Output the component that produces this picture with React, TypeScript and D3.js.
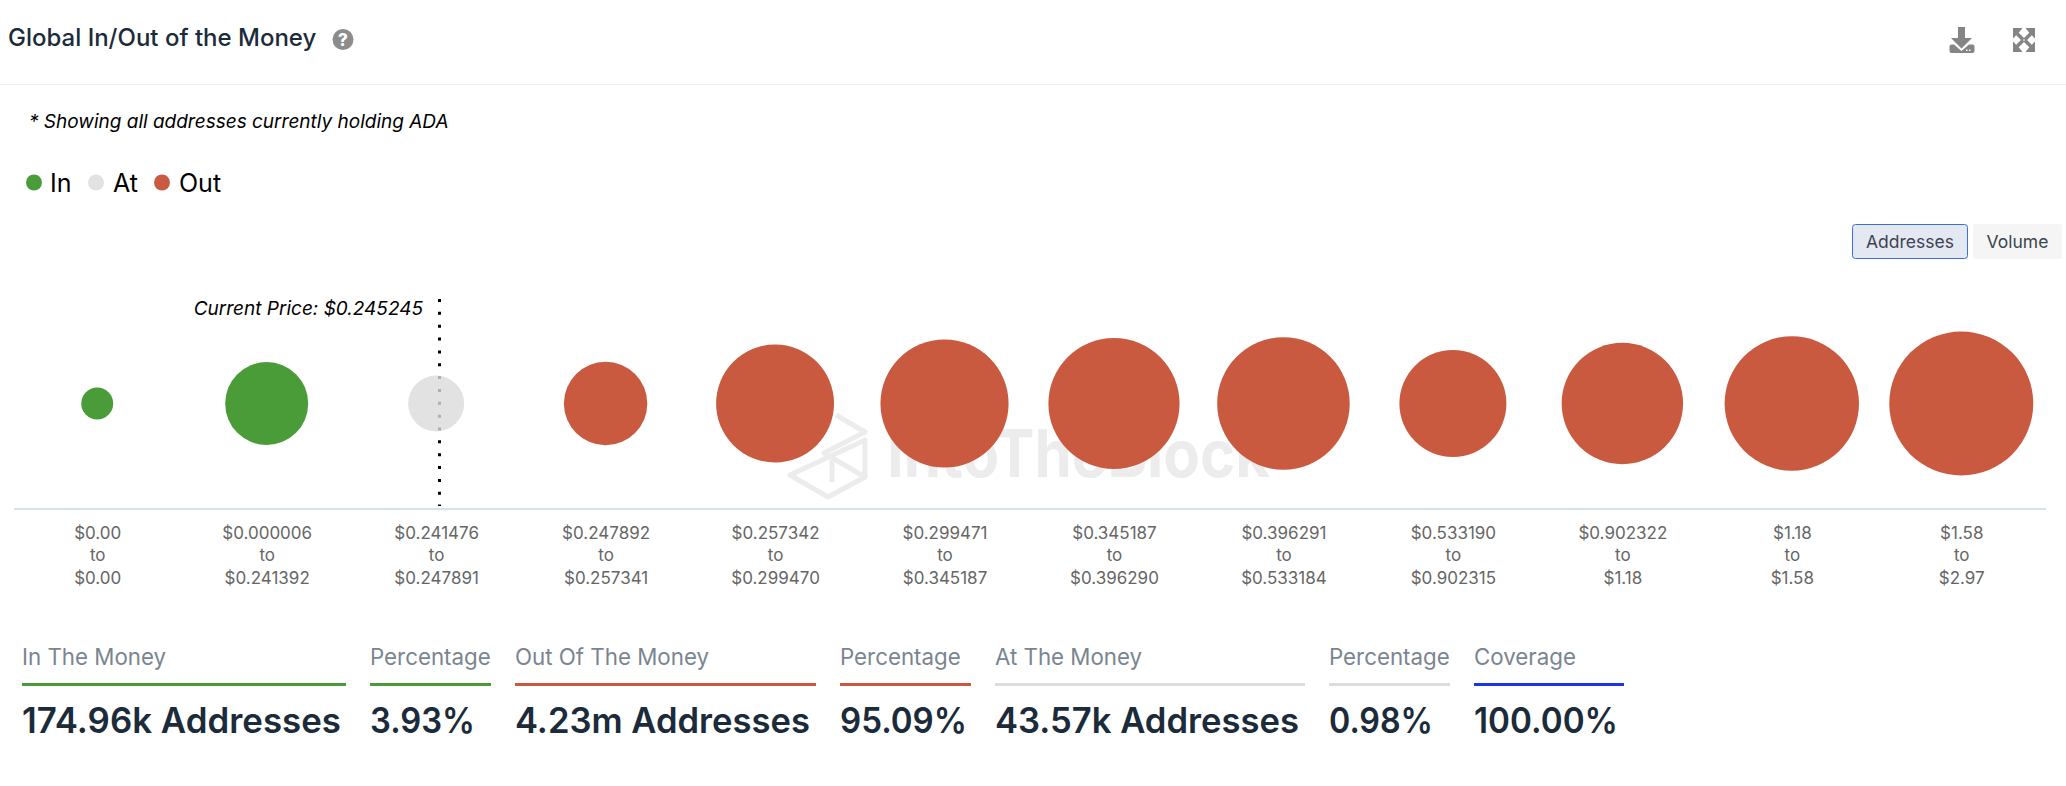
import { useEffect, useRef } from 'react';
import * as d3 from 'd3';

const width = 2066;
const height = 786;

const fromLabels = ['$0.00', '$0.000006', '$0.241476', '$0.247892', '$0.257342', '$0.299471', '$0.345187', '$0.396291', '$0.533190', '$0.902322', '$1.18', '$1.58'];
const toLabels = ['$0.00', '$0.241392', '$0.247891', '$0.257341', '$0.299470', '$0.345187', '$0.396290', '$0.533184', '$0.902315', '$1.18', '$1.58', '$2.97'];
const addresses = [8100, 142000, 43570, 144000, 407000, 522000, 560000, 578000, 304000, 444000, 602000, 741000];
const states = ['in', 'in', 'at', 'out', 'out', 'out', 'out', 'out', 'out', 'out', 'out', 'out'];

const legendNames = ['In', 'At', 'Out'];
const statTitles = ['In The Money', 'Percentage', 'Out Of The Money', 'Percentage', 'At The Money', 'Percentage', 'Coverage'];
const statValues = ['174.96k Addresses', '3.93%', '4.23m Addresses', '95.09%', '43.57k Addresses', '0.98%', '100.00%'];

const green = '#4a9c38';
const red = '#c95a40';
const grey = '#e2e2e2';
const dark = '#1b2b3a';
const font = 'Inter, sans-serif';

const statX = [22, 370, 515, 840, 995, 1329, 1474];
const statW = [324, 121, 301, 131, 310, 121, 150];
// the installed Inter is a different cut, so the big numbers are fitted to the measured widths
const statTextW = [319, 105, 295, 127, 304, 104, 144];
const statColors = [green, green, red, red, '#dddddd', '#dddddd', '#1a36e8'];

export default function App() {
  const ref = useRef<SVGSVGElement>(null);

  useEffect(() => {
    const svg = d3.select(ref.current!);
    svg.selectAll('*').remove();

    // header
    svg.append('text').attr('x', 8).attr('y', 46).text('Global In/Out of the Money')
      .attr('font-size', 24).attr('font-weight', 500).attr('fill', dark);
    svg.append('circle').attr('cx', 343).attr('cy', 39.5).attr('r', 10.5).attr('fill', '#8c8c8c');
    svg.append('text').attr('x', 343).attr('y', 45.5).attr('text-anchor', 'middle').text('?')
      .attr('font-size', 17).attr('font-weight', 800).attr('fill', '#fff');
    svg.append('line').attr('x1', 0).attr('x2', width).attr('y1', 84.5).attr('y2', 84.5).attr('stroke', '#eeeeee');

    // download + expand icons
    svg.append('path').attr('fill', '#858585')
      .attr('d', 'M1958 27h7v11h7l-10.500 10.500-10.500-10.500h7z M1951 44.500h3l7.500 6.500 7.500-6.500h3.500a2 2 0 0 1 2 2v4.500a2 2 0 0 1-2 2h-21a2 2 0 0 1-2-2v-4.500a2 2 0 0 1 2-2z');
    svg.append('rect').attr('x', 1966).attr('y', 49.5).attr('width', 1.5).attr('height', 1.5).attr('fill', '#fff');
    svg.append('rect').attr('x', 1969).attr('y', 49.5).attr('width', 1.5).attr('height', 1.5).attr('fill', '#fff');
    const expand = svg.append('g').attr('transform', 'translate(2024,40)');
    [1, -1].forEach((sx) => {
      [1, -1].forEach((sy) => {
        expand.append('path').attr('transform', `scale(${sx},${sy})`).attr('fill', '#858585')
          .attr('d', 'M11-12v10.500l-3.200-3.200-5.800 5.800-2.500-2.500 5.800-5.800-3.800-4.800z');
      });
    });

    svg.append('text').attr('x', 29).attr('y', 127.500).text('* Showing all addresses currently holding ADA')
      .attr('font-size', 19).attr('font-style', 'italic').attr('fill', '#000');

    // legend
    const legendColor = d3.scaleOrdinal<string, string>().domain(legendNames).range([green, grey, red]);
    const legendDot = [34, 96, 162];
    const legendText = [50, 113, 179];
    legendNames.forEach((n, i) => {
      svg.append('circle').attr('cx', legendDot[i]).attr('cy', 182.500).attr('r', 8).attr('fill', legendColor(n));
      svg.append('text').attr('x', legendText[i]).attr('y', 192).text(n).attr('font-size', 25).attr('fill', '#000');
    });

    // addresses / volume toggle
    svg.append('rect').attr('x', 1852.500).attr('y', 224.500).attr('width', 115).attr('height', 34).attr('rx', 3)
      .attr('fill', '#e4e8f3').attr('stroke', '#3b6fe0').attr('stroke-width', 1);
    svg.append('text').attr('x', 1910).attr('y', 247.500).attr('text-anchor', 'middle').text('Addresses')
      .attr('font-size', 17.500).attr('fill', '#3d4450');
    svg.append('rect').attr('x', 1973).attr('y', 224).attr('width', 89).attr('height', 35).attr('rx', 3).attr('fill', '#f5f5f5');
    svg.append('text').attr('x', 2017.500).attr('y', 247.500).attr('text-anchor', 'middle').text('Volume')
      .attr('font-size', 17.500).attr('fill', '#3d4450');

    // watermark
    const mark = svg.append('g').attr('fill', 'none').attr('stroke', '#ececec').attr('stroke-width', 5).attr('stroke-linejoin', 'round');
    mark.append('path').attr('d', 'M836 415l29 17-41 21 41 24-37 20-38-22 75-35v37');
    mark.append('path').attr('d', 'M832 460v22');
    svg.append('text').attr('x', 887).attr('y', 477).text('IntoTheBlock')
      .attr('font-size', 66).attr('font-weight', 700).attr('fill', '#ececec')
      .attr('textLength', 383).attr('lengthAdjust', 'spacingAndGlyphs');

    // chart
    const x = d3.scaleBand<number>().domain(d3.range(addresses.length)).range([12.500, 2046]);
    const r = d3.scalePow().exponent(1 / 3).domain([0, d3.max(addresses)!]).range([0, 72]);
    const color = d3.scaleOrdinal<string, string>().domain(['in', 'at', 'out']).range([green, '#dbdbdb', red]);
    const cy = 403.5;

    svg.append('line').attr('x1', 439.500).attr('x2', 439.500).attr('y1', 299).attr('y2', 506)
      .attr('stroke', '#000').attr('stroke-width', 3).attr('stroke-dasharray', '3 9.85');
    svg.append('text').attr('x', 423).attr('y', 314.500).attr('text-anchor', 'end').text('Current Price: $0.245245')
      .attr('font-size', 19).attr('font-style', 'italic').attr('fill', '#000');

    svg.append('g').selectAll('circle').data(addresses).join('circle')
      .attr('cx', (_, i) => x(i)! + x.bandwidth() / 2)
      .attr('cy', cy)
      .attr('r', (d) => r(d))
      .attr('fill', (_, i) => color(states[i]))
      .attr('fill-opacity', (_, i) => (states[i] === 'at' ? 0.8 : 1));

    const axis = d3.axisBottom(x).tickSize(0).tickFormat(() => '');
    const axisG = svg.append('g').attr('transform', 'translate(0,509)').call(axis);
    axisG.select('.domain').attr('stroke', '#ccd6eb').attr('stroke-width', 1.500).attr('d', 'M14,0H2046');

    const labels = svg.append('g').attr('font-size', 17).attr('fill', '#666666').attr('text-anchor', 'middle');
    addresses.forEach((_, i) => {
      const cx = x(i)! + x.bandwidth() / 2 + 0.5;
      labels.append('text').attr('x', cx).attr('y', 538.500).text(fromLabels[i]);
      labels.append('text').attr('x', cx).attr('y', 561).text('to');
      labels.append('text').attr('x', cx).attr('y', 583.500).text(toLabels[i]);
    });

    // stat strip
    statTitles.forEach((t, i) => {
      svg.append('text').attr('x', statX[i]).attr('y', 664.500).text(t).attr('font-size', 22.300).attr('fill', '#7a8590');
      svg.append('rect').attr('x', statX[i]).attr('y', 683).attr('width', statW[i]).attr('height', 3).attr('fill', statColors[i]);
      svg.append('text').attr('x', statX[i]).attr('y', 732.500).text(statValues[i])
        .attr('font-size', 35).attr('font-weight', 570).attr('fill', dark)
        .attr('textLength', statTextW[i]).attr('lengthAdjust', 'spacingAndGlyphs');
    });
  }, []);

  return (
    <svg
      ref={ref}
      width={width}
      height={height}
      style={{ position: 'absolute', left: 0, top: 0, background: '#fff', fontFamily: font, fontOpticalSizing: 'none' }}
    />
  );
}
